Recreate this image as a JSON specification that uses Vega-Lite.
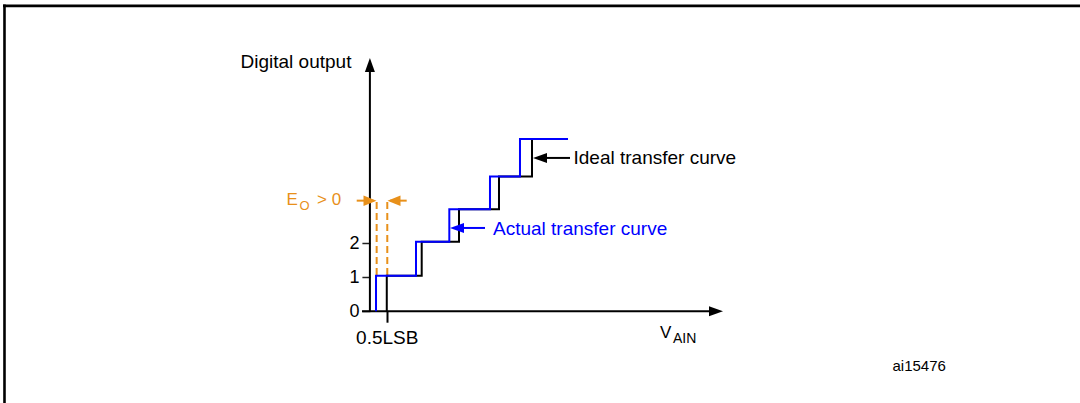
{
  "$schema": "https://vega.github.io/schema/vega-lite/v6.json",
  "width": 1080,
  "height": 403,
  "autosize": {"type": "none"},
  "padding": 0,
  "background": "#ffffff",
  "config": {"view": {"stroke": null}, "font": "Liberation Sans"},
  "datasets": {
    "steps": [
      {"s": "ideal", "i": 0, "x": 0.5, "y": 0},
      {"s": "ideal", "i": 1, "x": 0.5, "y": 1.04},
      {"s": "ideal", "i": 2, "x": 1.535, "y": 1.04},
      {"s": "ideal", "i": 3, "x": 1.535, "y": 2.04},
      {"s": "ideal", "i": 4, "x": 2.64, "y": 2.04},
      {"s": "ideal", "i": 5, "x": 2.64, "y": 3.0},
      {"s": "ideal", "i": 6, "x": 3.825, "y": 3.0},
      {"s": "ideal", "i": 7, "x": 3.825, "y": 3.96},
      {"s": "ideal", "i": 8, "x": 4.803, "y": 3.96},
      {"s": "ideal", "i": 9, "x": 4.803, "y": 5.06},
      {"s": "ideal", "i": 10, "x": 5.6, "y": 5.06},
      {"s": "actual", "i": 0, "x": 0.181, "y": 0},
      {"s": "actual", "i": 1, "x": 0.181, "y": 1.04},
      {"s": "actual", "i": 2, "x": 1.366, "y": 1.04},
      {"s": "actual", "i": 3, "x": 1.366, "y": 2.04},
      {"s": "actual", "i": 4, "x": 2.353, "y": 2.04},
      {"s": "actual", "i": 5, "x": 2.353, "y": 3.0},
      {"s": "actual", "i": 6, "x": 3.558, "y": 3.0},
      {"s": "actual", "i": 7, "x": 3.558, "y": 3.96},
      {"s": "actual", "i": 8, "x": 4.447, "y": 3.96},
      {"s": "actual", "i": 9, "x": 4.447, "y": 5.06},
      {"s": "actual", "i": 10, "x": 5.87, "y": 5.06}
    ]
  },
  "encoding": {
    "x": {
      "field": "x", "type": "quantitative",
      "scale": {"domain": [-10.96, 21.04], "nice": false, "zero": false},
      "axis": {
        "orient": "bottom", "offset": -91.8, "values": [0.5], "labelExpr": "'0.5LSB'",
        "domain": false, "grid": false, "tickSize": 11, "tickWidth": 2, "tickColor": "#000000",
        "labelFontSize": 19, "labelPadding": 6, "labelDx": 7, "labelColor": "#000000",
        "labelFlush": false, "labelFont": "Liberation Sans", "title": null
      }
    },
    "y": {
      "field": "y", "type": "quantitative",
      "scale": {"domain": [-2.7, 9.15], "nice": false, "zero": false},
      "axis": {
        "orient": "left", "offset": -369.9, "values": [0, 1, 2],
        "domain": false, "grid": false, "tickSize": 8, "tickWidth": 1.5, "tickColor": "#222222",
        "labelFontSize": 18, "labelPadding": 3, "labelColor": "#000000", "labelDy": -2,
        "labelFont": "Liberation Sans", "title": null
      }
    }
  },
  "layer": [
    {
      "data": {"values": [
        {"x": -10.871, "x2": 21.04, "y": 8.976, "y2": 8.976},
        {"x": -10.827, "x2": -10.827, "y": 9.02, "y2": -2.7}
      ]},
      "mark": {"type": "rule", "color": "#000000", "strokeWidth": 2.6},
      "encoding": {"x2": {"field": "x2"}, "y2": {"field": "y2"}}
    },
    {
      "data": {"values": [
        {"x": -0.234, "x2": 10.2, "y": 0, "y2": 0, "c": "k"},
        {"x": 0, "x2": 0, "y": 0, "y2": 7.1, "c": "k"},
        {"x": 5.1, "x2": 5.929, "y": 4.506, "y2": 4.506, "c": "k"},
        {"x": 2.6, "x2": 3.41, "y": 2.447, "y2": 2.447, "c": "b"},
        {"x": -0.391, "x2": 0.1, "y": 3.25, "y2": 3.25, "c": "o"},
        {"x": 0.6, "x2": 1.09, "y": 3.25, "y2": 3.25, "c": "o"}
      ]},
      "mark": {"type": "rule", "strokeWidth": 2},
      "encoding": {
        "x2": {"field": "x2"}, "y2": {"field": "y2"},
        "color": {"field": "c", "type": "nominal", "scale": {"domain": ["k", "b", "o"], "range": ["#000000", "#0000FF", "#E8901A"]}, "legend": null}
      }
    },
    {
      "data": {"values": [
        {"x": 0.2, "x2": 0.2, "y": 1.065, "y2": 3.22},
        {"x": 0.515, "x2": 0.515, "y": 1.065, "y2": 3.22}
      ]},
      "mark": {"type": "rule", "color": "#E8901A", "strokeWidth": 2, "strokeDash": [7, 4]},
      "encoding": {"x2": {"field": "x2"}, "y2": {"field": "y2"}}
    },
    {
      "data": {"name": "steps"},
      "transform": [{"filter": "datum.s === 'ideal'"}],
      "mark": {"type": "line", "color": "#000000", "strokeWidth": 2, "strokeJoin": "miter"},
      "encoding": {"order": {"field": "i", "type": "quantitative"}}
    },
    {
      "data": {"name": "steps"},
      "transform": [{"filter": "datum.s === 'actual'"}],
      "mark": {"type": "line", "color": "#0000FF", "strokeWidth": 2, "strokeJoin": "miter"},
      "encoding": {"order": {"field": "i", "type": "quantitative"}}
    },
    {
      "data": {"values": [
        {"x": 0, "y": 7.447, "d": "up", "c": "k"},
        {"x": 10.462, "y": 0, "d": "right", "c": "k"},
        {"x": 4.833, "y": 4.506, "d": "left", "c": "k"},
        {"x": 2.373, "y": 2.447, "d": "left", "c": "b"},
        {"x": 0.196, "y": 3.25, "d": "oright", "c": "o"},
        {"x": 0.521, "y": 3.25, "d": "oleft", "c": "o"}
      ]},
      "mark": {"type": "point", "filled": true, "size": 100, "opacity": 1, "strokeWidth": 0},
      "encoding": {
        "shape": {"field": "d", "type": "nominal", "scale": {"domain": ["up", "right", "left", "oright", "oleft"], "range": ["M0,0L-1,2.8L1,2.8Z", "M0,0L-2.8,-1L-2.8,1Z", "M0,0L2.8,-1L2.8,1Z", "M0,0L-2.6,-1.05L-2.6,1.05Z", "M0,0L2.6,-1.05L2.6,1.05Z"]}, "legend": null},
        "color": {"field": "c", "type": "nominal", "scale": {"domain": ["k", "b", "o"], "range": ["#000000", "#0000FF", "#E8901A"]}, "legend": null}
      }
    },
    {
      "data": {"values": [
        {"x": -3.834, "y": 7.144, "t": "Digital output"},
        {"x": 6.033, "y": 4.32, "t": "Ideal transfer curve"}
      ]},
      "mark": {"type": "text", "align": "left", "baseline": "alphabetic", "fontSize": 19, "color": "#000000"},
      "encoding": {"text": {"field": "t"}}
    },
    {
      "data": {"values": [{"x": 3.647, "y": 2.241, "t": "Actual transfer curve"}]},
      "mark": {"type": "text", "align": "left", "baseline": "alphabetic", "fontSize": 19, "color": "#0000FF"},
      "encoding": {"text": {"field": "t"}}
    },
    {
      "data": {"values": [
        {"x": -2.471, "y": 3.124, "t": "E"},
        {"x": -1.567, "y": 3.124, "t": "> 0"}
      ]},
      "mark": {"type": "text", "align": "left", "baseline": "alphabetic", "fontSize": 17, "color": "#E8901A"},
      "encoding": {"text": {"field": "t"}}
    },
    {
      "data": {"values": [{"x": -2.089, "y": 2.976, "t": "O"}]},
      "mark": {"type": "text", "align": "left", "baseline": "alphabetic", "fontSize": 13, "color": "#E8901A"},
      "encoding": {"text": {"field": "t"}}
    },
    {
      "data": {"values": [{"x": 8.596, "y": -0.797, "t": "V"}]},
      "mark": {"type": "text", "align": "left", "baseline": "alphabetic", "fontSize": 17, "color": "#000000"},
      "encoding": {"text": {"field": "t"}}
    },
    {
      "data": {"values": [{"x": 8.981, "y": -0.944, "t": "AIN"}]},
      "mark": {"type": "text", "align": "left", "baseline": "alphabetic", "fontSize": 14, "color": "#000000"},
      "encoding": {"text": {"field": "t"}}
    },
    {
      "data": {"values": [{"x": 15.484, "y": -1.75, "t": "ai15476"}]},
      "mark": {"type": "text", "align": "left", "baseline": "alphabetic", "fontSize": 15, "color": "#000000"},
      "encoding": {"text": {"field": "t"}}
    }
  ]
}
